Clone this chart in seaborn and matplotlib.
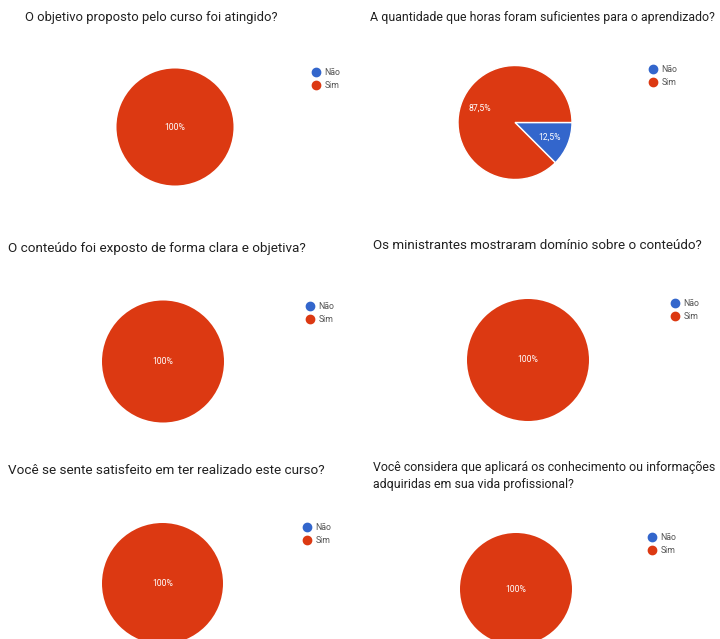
import matplotlib
matplotlib.use("Agg")
import matplotlib.pyplot as plt
from matplotlib.lines import Line2D
import seaborn as sns

# ---------------- data ----------------
titles = [
    "O objetivo proposto pelo curso foi atingido?",
    "A quantidade que horas foram suficientes para o aprendizado?",
    "O conteúdo foi exposto de forma clara e objetiva?",
    "Os ministrantes mostraram domínio sobre o conteúdo?",
    "Você se sente satisfeito em ter realizado este curso?",
    "Você considera que aplicará os conhecimento ou informações\nadquiridas em sua vida profissional?",
]
categories = ["Não", "Sim"]
nao_values = [0, 12.5, 0, 0, 0, 0]
sim_values = [100, 87.5, 100, 100, 100, 100]
colors = ["#3366CC", "#DC3912"]

# ---------------- layout (pixels in a 720x639 canvas) ----------------
W, H = 720, 639
title_pos = [(25, 11), (370, 11), (8, 242), (373, 239), (8, 464), (373, 461)]
title_size = [9.4, 8.95, 9.7, 9.65, 9.7, 8.95]
pie_center = [(175, 127), (515, 122.5), (163, 361.5), (528, 360), (162.5, 583.5), (516, 589)]
pie_radius = [58.5, 57, 61, 61, 60.5, 56]
legend_pos = [(313, 68), (650, 65), (307, 302), (672, 299), (304, 523), (649, 533)]

sns.set_theme(style="white")
plt.rcParams["font.family"] = ["Roboto", "DejaVu Sans"]

fig = plt.figure(figsize=(W / 100, H / 100), dpi=100)
fig.patch.set_facecolor("white")


def fmt_pct(p):
    if abs(p - round(p)) < 1e-6:
        return f"{int(round(p))}%"
    return f"{p:.1f}%".replace(".", ",")


for i in range(len(titles)):
    cx, cy = pie_center[i]
    r = pie_radius[i]
    ax = fig.add_axes([(cx - r) / W, (H - cy - r) / H, 2 * r / W, 2 * r / H])
    vals = [nao_values[i], sim_values[i]]
    keep = [k for k, v in enumerate(vals) if v > 0]
    pv = [vals[k] for k in keep]
    pc = [colors[k] for k in keep]
    single = len(pv) == 1
    wedges, texts, autotexts = ax.pie(
        pv,
        colors=pc,
        startangle=0,
        counterclock=False,
        autopct=lambda p: fmt_pct(p),
        pctdistance=0.0 if single else 0.66,
        wedgeprops=dict(edgecolor="white", linewidth=0.0 if single else 1.0),
        textprops=dict(color="white", fontsize=6.2),
    )
    ax.set_xlim(-1, 1)
    ax.set_ylim(-1, 1)
    ax.set_aspect("equal")
    ax.axis("off")

    tx, ty = title_pos[i]
    fig.text(tx / W, 1 - ty / H, titles[i], ha="left", va="top",
             fontsize=title_size[i], color="#212121", linespacing=1.35)

    handles = [Line2D([0], [0], marker="o", linestyle="none", markersize=6,
                      markerfacecolor=c, markeredgecolor=c) for c in colors]
    lx, ly = legend_pos[i]
    leg = ax.legend(handles, categories, loc="upper left",
                    bbox_to_anchor=(lx / W, 1 - ly / H),
                    bbox_transform=fig.transFigure, frameon=False,
                    fontsize=6.3, handlelength=0.6, handletextpad=0.7,
                    labelspacing=0.43, borderaxespad=0, borderpad=0)
    for t in leg.get_texts():
        t.set_color("#555555")

fig.savefig("out.png", dpi=100, facecolor="white")
